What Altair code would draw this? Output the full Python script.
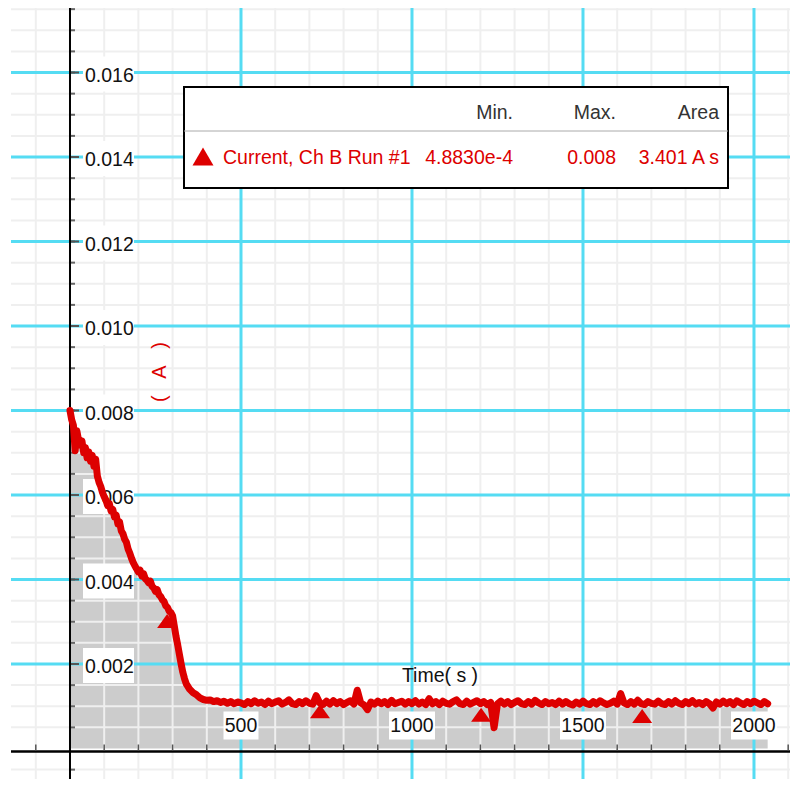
import altair as alt
import pandas as pd

# ---------------- data ----------------
decay_time = [0, 5, 10, 15, 20, 25, 30, 35, 40, 45, 50, 55, 60, 65, 70, 75, 80, 85, 90, 95,
              100, 105, 110, 115, 120, 125, 130, 135, 140, 145, 150, 155, 160, 165, 170, 175,
              180, 185, 190, 195, 200, 205, 210, 215, 220, 225, 230, 235, 240, 245, 250, 255,
              260, 265, 270, 275, 280, 285, 290, 295, 300, 305, 310, 315, 320, 325, 330, 335,
              340, 350, 360, 370]
decay_current_1e5 = [800, 778, 765, 705, 752, 730, 718, 728, 700, 712, 688, 702, 680, 694, 668,
                     685, 645, 630, 620, 606, 596, 588, 575, 580, 562, 566, 548, 552, 532, 536,
                     515, 508, 495, 488, 472, 462, 450, 440, 432, 425, 418, 422, 408, 414, 402,
                     398, 392, 396, 384, 380, 372, 376, 364, 360, 352, 348, 338, 334, 325, 322,
                     314, 290, 265, 245, 222, 200, 180, 165, 153, 140, 132, 127]

flat_time = list(range(380, 2041, 10))
flat_current_1e5 = [
    120, 116, 114, 115, 111, 113, 109, 112, 107, 111, 106, 110, 108,      # 380-500
    104, 111, 106, 113, 107, 110, 104, 112, 106, 110,                     # 510-600
    113, 105, 109, 115, 106, 104, 111, 106, 113, 107,                     # 610-700
    105, 125, 108, 104, 112, 105, 113, 106, 111, 104,                     # 710-800
    109, 113, 105, 138, 108, 103, 92, 110, 105, 112,                      # 810-900
    106, 111, 104, 114, 106, 109, 112, 105, 111, 106,                     # 910-1000
    113, 105, 110, 104, 118, 106, 111, 104, 112, 107,                     # 1010-1100
    105, 111, 115, 106, 104, 112, 105, 109, 113, 106,                     # 1110-1200
    111, 104, 109, 49, 106, 112, 105, 111, 104, 109,                      # 1210-1300
    113, 106, 104, 111, 105, 114, 108, 104, 111, 106,                     # 1310-1400
    109, 104, 112, 105, 111, 106, 103, 110, 105, 112,                     # 1410-1500
    106, 104, 111, 105, 113, 108, 104, 107, 112, 105,                     # 1510-1600
    130, 108, 104, 111, 105, 114, 106, 104, 111, 107,                     # 1610-1700
    105, 112, 106, 104, 111, 105, 113, 107, 104, 111,                     # 1710-1800
    106, 113, 105, 109, 104, 111, 106, 96, 110, 105,                      # 1810-1900
    112, 106, 111, 104, 113, 108, 104, 111, 106, 112,                     # 1910-2000
    108, 104, 111, 106,                                                   # 2010-2040
]

marker_time = [284, 731, 1202, 1673]
marker_current = [0.00302, 0.00088, 0.00080, 0.00077]

x_major_ticks = [500, 1000, 1500, 2000]
x_major_labels = ["500", "1000", "1500", "2000"]
y_major_ticks = [0.002, 0.004, 0.006, 0.008, 0.010, 0.012, 0.014, 0.016]
y_major_labels = ["0.002", "0.004", "0.006", "0.008", "0.010", "0.012", "0.014", "0.016"]
x_minor_ticks = [-100, 100, 200, 300, 400, 600, 700, 800, 900, 1100, 1200, 1300, 1400,
                 1600, 1700, 1800, 1900, 2100]
y_minor_ticks = [-0.0005, 0.0005, 0.001, 0.0015, 0.0025, 0.003, 0.0035, 0.0045, 0.005, 0.0055,
                 0.0065, 0.007, 0.0075, 0.0085, 0.009, 0.0095, 0.0105, 0.011, 0.0115, 0.0125,
                 0.013, 0.0135, 0.0145, 0.015, 0.0155, 0.0165, 0.017, 0.0175]

legend_series = "Current, Ch B Run #1"
legend_headers = ["Min.", "Max.", "Area"]
legend_stats = ["4.8830e-4", "0.008", "3.401 A s"]
x_title = "Time( s )"
y_title = "(\u00a0\u00a0\u00a0A\u00a0\u00a0\u00a0)"

# ---------------- tables ----------------
nd = min(len(decay_time), len(decay_current_1e5))
n = min(len(flat_time), len(flat_current_1e5))
series = pd.DataFrame({
    "time": decay_time[:nd] + flat_time[:n],
    "current": [v * 1e-5 for v in decay_current_1e5[:nd]] + [v * 1e-5 for v in flat_current_1e5[:n]],
})
series["zero"] = 0.0
markers = pd.DataFrame({"time": marker_time, "current": marker_current})
xmaj = pd.DataFrame({"v": x_major_ticks, "label": x_major_labels})
xmaj["zero"] = 0.0
ymaj = pd.DataFrame({"v": y_major_ticks, "label": y_major_labels})
ymaj["zero"] = 0.0
xmin = pd.DataFrame({"v": x_minor_ticks})
xmin["zero"] = 0.0
ymin = pd.DataFrame({"v": y_minor_ticks + y_major_ticks})
ymin["zero"] = 0.0
ymin_grid = pd.DataFrame({"v": y_minor_ticks})
one = pd.DataFrame({"zero": [0.0]})

FONT = "Liberation Sans, Arial"
FS = 19.5
RED = "#dd0000"

xs = alt.Scale(domain=[-172.5, 2105.3], nice=False, zero=False)
ys = alt.Scale(domain=[-0.000722, 0.017527], nice=False, zero=False)


def X(f):
    return alt.X(f, scale=xs, axis=None)


def Y(f):
    return alt.Y(f, scale=ys, axis=None)


layers = []

# gray area under curve
layers.append(alt.Chart(series).mark_area(color="#cccccc").encode(
    x=X("time:Q"), y=Y("current:Q"), y2="zero:Q"))

# minor grid
layers.append(alt.Chart(xmin).mark_rule(color="#efefef", strokeWidth=2).encode(x=X("v:Q")))
layers.append(alt.Chart(ymin_grid).mark_rule(color="#efefef", strokeWidth=2).encode(y=Y("v:Q")))

# major cyan grid
layers.append(alt.Chart(xmaj).mark_rule(color="#55dcf3", strokeWidth=3).encode(x=X("v:Q")))
layers.append(alt.Chart(ymaj).mark_rule(color="#55dcf3", strokeWidth=3).encode(y=Y("v:Q")))

# axis lines
layers.append(alt.Chart(one).mark_rule(color="black", strokeWidth=2).encode(x=X("zero:Q")))
layers.append(alt.Chart(one).mark_rule(color="black", strokeWidth=2.5, yOffset=3).encode(
    y=Y("zero:Q")))

# y ticks (to the right of the axis)
layers.append(alt.Chart(ymin).mark_rule(color="#666666", strokeWidth=2, xOffset=1, x2Offset=5).encode(
    x=X("zero:Q"), x2="zero:Q", y=Y("v:Q")))
layers.append(alt.Chart(ymaj).mark_rule(color="#555555", strokeWidth=2, xOffset=1, x2Offset=9).encode(
    x=X("zero:Q"), x2="zero:Q", y=Y("v:Q")))
# x ticks (above the axis)
layers.append(alt.Chart(xmin).mark_rule(color="#555555", strokeWidth=1.5, yOffset=2,
                                        y2Offset=-4).encode(
    x=X("v:Q"), y=Y("zero:Q"), y2="zero:Q"))

# y labels with white boxes
layers.append(alt.Chart(ymaj).mark_rect(color="white", xOffset=13, x2Offset=64,
                                        yOffset=-16, y2Offset=19).encode(
    x=X("zero:Q"), x2="zero:Q", y=Y("v:Q"), y2="v:Q"))
layers.append(alt.Chart(ymaj).mark_text(align="left", baseline="middle", dx=15, dy=3,
                                        font=FONT, fontSize=FS, color="#111111").encode(
    x=X("zero:Q"), y=Y("v:Q"), text="label:N"))

# x labels with white boxes
for tick, lab in zip(x_major_ticks, x_major_labels):
    half = 5.5 * len(lab) + 1
    d = pd.DataFrame({"v": [tick], "zero": [0.0]})
    layers.append(alt.Chart(d).mark_rect(color="white", xOffset=-half, x2Offset=half,
                                         yOffset=-37, y2Offset=-9).encode(
        x=X("v:Q"), x2="v:Q", y=Y("zero:Q"), y2="zero:Q"))
layers.append(alt.Chart(xmaj).mark_text(align="center", baseline="middle", dy=-22.5,
                                        font=FONT, fontSize=FS, color="#111111").encode(
    x=X("v:Q"), y=Y("zero:Q"), text="label:N"))

# axis titles
layers.append(alt.Chart(one).mark_text(align="center", baseline="middle", font=FONT,
                                       fontSize=FS, color="#111111", text=x_title).encode(
    x=alt.value(429), y=alt.value(668)))
layers.append(alt.Chart(one).mark_text(align="center", baseline="middle",
                                       font="Liberation Sans", fontSize=20, angle=270,
                                       color=RED, text=y_title).encode(
    x=alt.value(149), y=alt.value(364)))

# data line and markers
layers.append(alt.Chart(series).mark_line(color=RED, strokeWidth=7, strokeJoin="round",
                                          strokeCap="round").encode(
    x=X("time:Q"), y=Y("current:Q")))
layers.append(alt.Chart(markers).mark_point(shape="M-1,0.7H1L0,-0.7Z", size=400, filled=True,
                                            color=RED, opacity=1).encode(
    x=X("time:Q"), y=Y("current:Q")))

# legend table
layers.append(alt.Chart(one).mark_rect(fill="white", stroke="black", strokeWidth=2).encode(
    x=alt.value(173), x2=alt.value(717), y=alt.value(79), y2=alt.value(180)))
layers.append(alt.Chart(one).mark_rule(color="#aaaaaa", strokeWidth=1).encode(
    x=alt.value(173), x2=alt.value(717), y=alt.value(123)))
for lab, xr in zip(legend_headers, [502, 605, 708]):
    layers.append(alt.Chart(one).mark_text(align="right", baseline="middle", font=FONT,
                                           fontSize=FS, color="#333333", text=lab).encode(
        x=alt.value(xr), y=alt.value(105)))
for lab, xr in zip(legend_stats, [502, 605, 708]):
    layers.append(alt.Chart(one).mark_text(align="right", baseline="middle", font=FONT,
                                           fontSize=FS, color=RED, text=lab).encode(
        x=alt.value(xr), y=alt.value(150)))
layers.append(alt.Chart(one).mark_text(align="left", baseline="middle", font=FONT,
                                       fontSize=FS, color=RED, text=legend_series).encode(
    x=alt.value(212), y=alt.value(150)))
layers.append(alt.Chart(one).mark_point(shape="M-1,0.8H1L0,-0.9Z", size=440, filled=True,
                                        color=RED, opacity=1).encode(
    x=alt.value(192), y=alt.value(149)))

chart = alt.layer(*layers).properties(
    width=779, height=771,
    padding={"left": 3, "top": 0, "right": 0, "bottom": 0},
    autosize=alt.AutoSizeParams(type="none"),
    background="white",
).configure_view(stroke=None)

chart.save("out.html", embed_options={"renderer": "svg", "actions": False})
